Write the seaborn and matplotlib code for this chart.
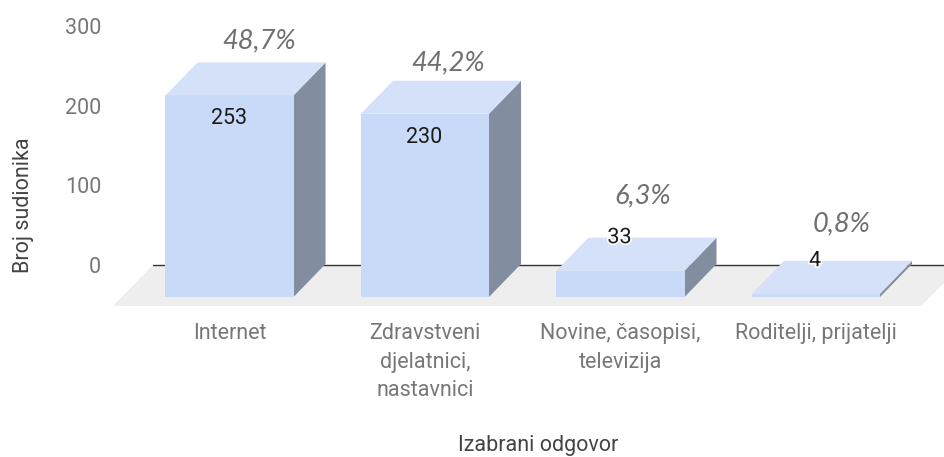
import matplotlib
matplotlib.use("Agg")
import matplotlib.pyplot as plt
import matplotlib.patheffects as pe
from matplotlib.patches import Polygon
from matplotlib.transforms import ScaledTranslation, IdentityTransform
import pandas as pd
import seaborn as sns

categories = ["Internet", "Zdravstveni\ndjelatnici,\nnastavnici", "Novine, časopisi,\ntelevizija", "Roditelji, prijatelji"]
counts = [253, 230, 33, 4]
shares = ["48,7%", "44,2%", "6,3%", "0,8%"]
y_ticks = [0, 100, 200, 300]

W, H = 944, 457
DX, DY = 32, 33  # 3d depth in pixels
FRONT = "#c9daf8"
TOP = "#d4e1f8"
SIDE = "#828e9f"
FLOOR = "#eeeeee"
FONT_SIZE = 15.5

# hand placed labels: pixel nudges from the bar's front centre / top edge
share_nudge = [(30, 22), (23, 18), (22, 42), (26, 37)]
value_nudge = [(0, -23), (-1, -24), (-1, 33), (-1, 33)]

sns.set_theme(style="white")
plt.rcParams["font.family"] = ["Roboto", "DejaVu Sans"]

fig = plt.figure(figsize=(W / 100, H / 100), dpi=100)
ax = fig.add_axes([131.75 / W, (H - 297) / H, 782 / W, 239 / H])

df = pd.DataFrame({"odgovor": categories, "broj": counts})
sns.barplot(data=df, x="odgovor", y="broj", color=FRONT, saturation=1, width=0.655, ax=ax, zorder=5)
ax.set_xlim(-0.5, 3.5)
ax.set_ylim(0, 300)
sns.despine(ax=ax, left=True, bottom=True, top=True, right=True)

fig.canvas.draw()
to_px = ax.transData


def add_poly(points, color, z):
    # points are in pixels (origin bottom left), as the display transform expects
    ax.add_patch(Polygon(points, closed=True, facecolor=color, edgecolor="none",
                         transform=IdentityTransform(), clip_on=False, zorder=z))


# floor and zero line, taken from the data position of y=0
x0, base = to_px.transform((-0.5, 0))
back = base + DY - 1
add_poly([(113, base - 9), (153, back), (962, back), (921, base - 9)], FLOOR, 1)
ax.plot([153, W], [back, back], color="#333333", lw=1.0,
        transform=IdentityTransform(), clip_on=False, zorder=2)

for bar, n, share, sn, vn in zip(ax.patches, counts, shares, share_nudge, value_nudge):
    bar.set_edgecolor("none")
    bx = bar.get_x()
    bw = bar.get_width()
    (l, b) = to_px.transform((bx, 0))
    (r, t) = to_px.transform((bx + bw, n))
    add_poly([(r, b), (r + DX, b + DY), (r + DX, t + DY), (r, t)], SIDE, 4)
    add_poly([(l, t), (r, t), (r + DX, t + DY), (l + DX, t + DY)], TOP, 6)
    mid = (l + r) / 2
    ax.text(mid + vn[0], t + vn[1], str(n), transform=IdentityTransform(),
            ha="center", va="center", fontsize=FONT_SIZE, color="#1a1a1a", zorder=8, clip_on=False,
            path_effects=[pe.withStroke(linewidth=2.5, foreground="white")] if n < 100 else None)
    ax.text(mid + sn[0], t + DY + sn[1], share, transform=IdentityTransform(), ha="center", va="center",
            fontsize=19.6, style="italic", family=["Lato", "DejaVu Sans"], color="#707070", zorder=8, clip_on=False)

# y tick labels sit on the back wall
ax.set_yticks(y_ticks)
ax.tick_params(axis="y", length=0, pad=22, labelsize=FONT_SIZE, labelcolor="#777777")
shift = ScaledTranslation(0, 32 / 100, fig.dpi_scale_trans)
for lab in ax.get_yticklabels():
    lab.set_transform(lab.get_transform() + shift)

ax.tick_params(axis="x", length=0, pad=19, labelsize=FONT_SIZE, labelcolor="#777777")
ax.set_xticks(range(len(categories)))
ax.set_xticklabels(categories, linespacing=1.45)

ax.set_xlabel("")
ax.set_ylabel("")
fig.text(538 / W, 1 - 446 / H, "Izabrani odgovor", ha="center", va="center", fontsize=FONT_SIZE, color="#444444")
fig.text(23 / W, 1 - 205 / H, "Broj sudionika", ha="center", va="center", rotation=90, fontsize=FONT_SIZE, color="#444444")

fig.savefig("out.png", dpi=100)
